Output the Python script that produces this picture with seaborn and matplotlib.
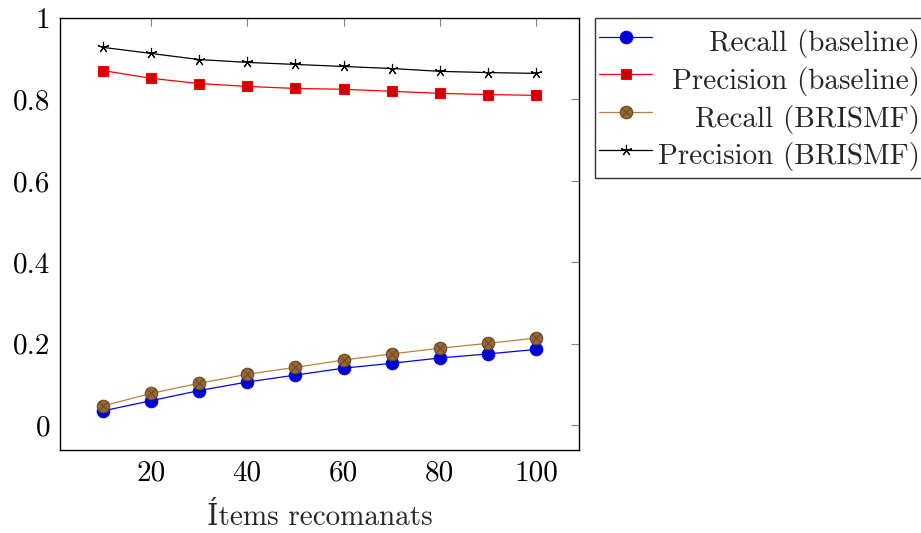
import matplotlib
matplotlib.use("Agg")
import matplotlib.pyplot as plt
import seaborn as sns
import numpy as np
from matplotlib.path import Path

# data
items = [10, 20, 30, 40, 50, 60, 70, 80, 90, 100]
recall_baseline = [0.035, 0.060, 0.085, 0.106, 0.123, 0.140, 0.152, 0.165, 0.175, 0.186]
precision_baseline = [0.871, 0.852, 0.839, 0.832, 0.827, 0.825, 0.820, 0.815, 0.812, 0.810]
recall_brismf = [0.047, 0.078, 0.103, 0.125, 0.142, 0.160, 0.175, 0.189, 0.201, 0.214]
precision_brismf = [0.928, 0.913, 0.898, 0.891, 0.886, 0.881, 0.876, 0.869, 0.866, 0.864]

x_ticks = [20, 40, 60, 80, 100]
y_ticks = [0, 0.2, 0.4, 0.6, 0.8, 1]
y_tick_labels = ["0", "0.2", "0.4", "0.6", "0.8", "1"]
x_label = "Ítems recomanats"

FS = 21

sns.set_theme(style="white")
plt.rcParams["font.family"] = ["cmr10", "DejaVu Serif"]
plt.rcParams["mathtext.fontset"] = "cm"
plt.rcParams["axes.formatter.use_mathtext"] = True

# pgfplots-like "otimes" marker: circle with a cross
d = np.sqrt(0.5)
otimes = Path.make_compound_path(
    Path.unit_circle(),
    Path([(-d, -d), (d, d)], [Path.MOVETO, Path.LINETO]),
    Path([(-d, d), (d, -d)], [Path.MOVETO, Path.LINETO]),
)

fig = plt.figure(figsize=(9.21, 5.33), dpi=100)
ax = fig.add_axes([0.0651, 0.1557, 0.5635, 0.8105])

series = [
    ("Recall (baseline)", recall_baseline,
     dict(color="#0000ff", marker="o", markerfacecolor="#0000cc",
          markeredgecolor="#0000ff", markersize=9)),
    ("Precision (baseline)", precision_baseline,
     dict(color="#ff0000", marker="s", markerfacecolor="#cc0000",
          markeredgecolor="#ff0000", markersize=7.5)),
    ("Recall (BRISMF)", recall_brismf,
     dict(color="#bf8040", marker=otimes, markerfacecolor="#996633",
          markeredgecolor="#6b4a2a", markersize=9)),
    ("Precision (BRISMF)", precision_brismf,
     dict(color="black", marker=(5, 2, 0), markerfacecolor="black",
          markeredgecolor="black", markersize=8)),
]

for name, values, style in series:
    sns.lineplot(x=items, y=values, ax=ax, label=name, linewidth=0.9,
                 markeredgewidth=0.8, **style)

ax.set_xlim(1.1, 108.9)
ax.set_ylim(-0.061, 1.0)
ax.set_xticks(x_ticks)
ax.set_xticklabels([str(t) for t in x_ticks])
ax.set_yticks(y_ticks)
ax.set_yticklabels(y_tick_labels)
ax.tick_params(direction="in", length=6, width=0.8, color="#808080",
               top=True, right=True, labelsize=FS, labelcolor="black", pad=7)
for sp in ax.spines.values():
    sp.set_color("black")
    sp.set_linewidth(1.0)
ax.set_xlabel(x_label, fontsize=FS, labelpad=12)
ax.set_ylabel("")

leg = ax.legend(loc="upper left", bbox_to_anchor=(595 / 921, (533 - 18) / 533),
                bbox_transform=fig.transFigure, frameon=True, fancybox=False,
                edgecolor="black", fontsize=FS, handlelength=1.8,
                handleheight=1.62, handletextpad=0.2, borderpad=0.15,
                labelspacing=0.0, borderaxespad=0)
leg.get_frame().set_linewidth(1.0)

# right-align legend entries like pgfplots
fig.canvas.draw()
renderer = fig.canvas.get_renderer()
widths = [t.get_window_extent(renderer).width for t in leg.get_texts()]
wmax = max(widths)
for t, w in zip(leg.get_texts(), widths):
    t.set_position((wmax - w, 0))

fig.savefig("out.png", dpi=100)
plt.close(fig)
